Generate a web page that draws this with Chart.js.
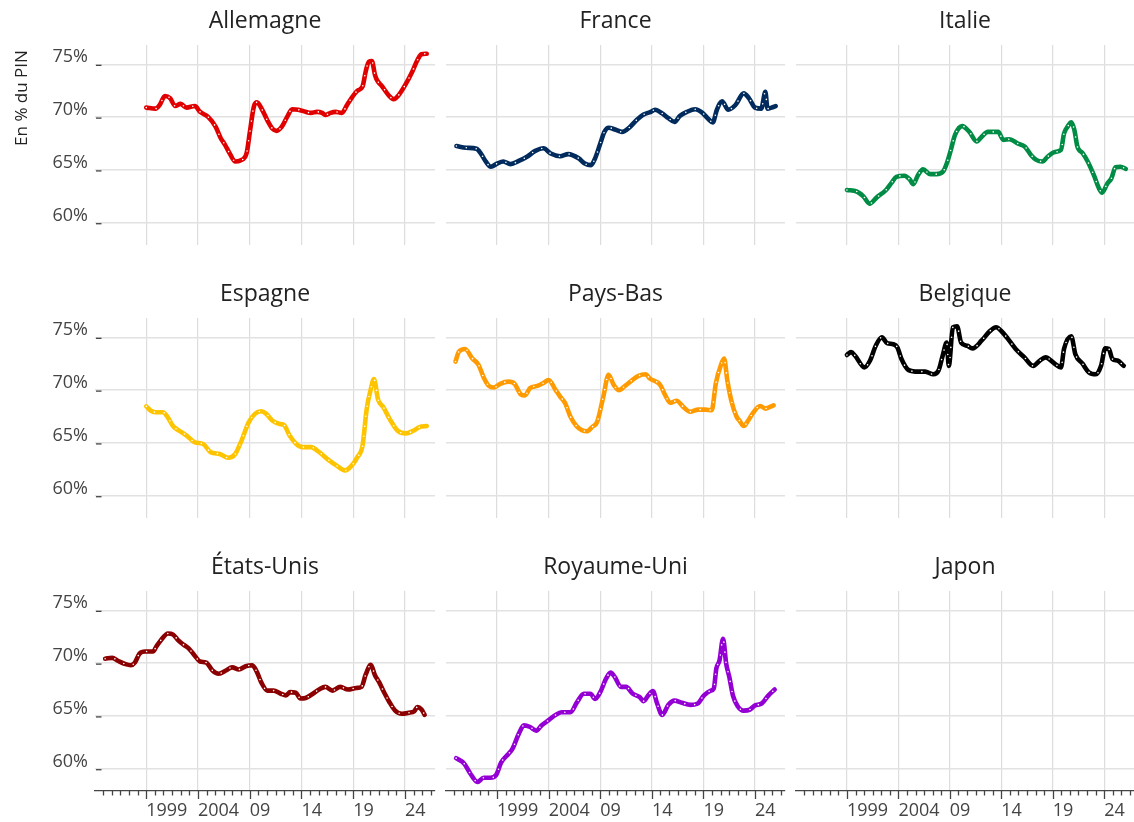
<!DOCTYPE html>
<html lang="fr">
<head>
<meta charset="utf-8">
<title>En % du PIN</title>
<script src="https://cdn.jsdelivr.net/npm/chart.js@4.4.1/dist/chart.umd.min.js"></script>
<style>
  html, body { margin: 0; padding: 0; background: #fff; }
  #wrap { position: relative; width: 1134px; height: 822px; overflow: hidden; background: #fff; }
  #wrap canvas { position: absolute; }
</style>
</head>
<body>
<div id="wrap"></div>
<script>
// ---------- data ----------
const countries = ['Allemagne', 'France', 'Italie', 'Espagne', 'Pays-Bas', 'Belgique', 'États-Unis', 'Royaume-Uni', 'Japon'];
const countryColors = ['#e00000', '#002b5c', '#008c45', '#ffc400', '#ff9b00', '#000000', '#8b0000', '#9400d3', '#bc002d'];

const allemagneYears = [1999.0, 1999.9, 2000.3, 2000.8, 2001.3, 2001.8, 2002.3, 2002.9, 2003.7, 2004.2, 2005.0, 2005.7, 2006.2, 2006.6, 2007.1, 2007.6, 2008.1, 2008.7, 2009.0, 2009.4, 2009.7, 2010.2, 2010.7, 2011.2, 2011.6, 2012.1, 2012.6, 2013.1, 2013.7, 2014.4, 2014.9, 2015.5, 2016.0, 2016.3, 2016.8, 2017.3, 2017.9, 2018.4, 2018.9, 2019.4, 2019.9, 2020.2, 2020.5, 2020.8, 2021.1, 2021.3, 2021.8, 2022.4, 2022.9, 2023.4, 2024.0, 2024.7, 2025.2, 2025.6, 2026.1];
const allemagneValues = [70.9, 70.8, 71.15, 72.0, 71.8, 71.05, 71.25, 70.9, 71.05, 70.5, 70.0, 69.1, 68.0, 67.4, 66.5, 65.8, 65.9, 66.6, 68.5, 71.0, 71.4, 70.7, 69.7, 68.9, 68.7, 69.1, 70.0, 70.75, 70.7, 70.5, 70.4, 70.5, 70.4, 70.2, 70.4, 70.5, 70.4, 71.15, 71.9, 72.5, 72.9, 74.3, 75.25, 75.3, 74.0, 73.5, 72.9, 72.1, 71.7, 72.1, 73.0, 74.3, 75.4, 75.95, 76.0];

const franceYears = [1995.06, 1996.0, 1997.0, 1997.4, 1997.9, 1998.4, 1999.0, 1999.6, 2000.3, 2001.1, 2001.9, 2002.7, 2003.5, 2004.2, 2005.1, 2005.9, 2006.9, 2007.5, 2008.1, 2008.5, 2009.0, 2009.4, 2009.8, 2010.5, 2011.1, 2011.8, 2012.5, 2013.2, 2013.9, 2014.3, 2015.0, 2015.6, 2016.2, 2016.7, 2017.4, 2018.2, 2018.9, 2019.5, 2019.9, 2020.3, 2020.8, 2021.4, 2022.1, 2022.9, 2023.4, 2024.0, 2024.6, 2025.0, 2025.2, 2025.6, 2026.0];
const franceValues = [67.26, 67.1, 67.0, 66.6, 65.8, 65.3, 65.6, 65.8, 65.55, 65.85, 66.25, 66.8, 67.05, 66.55, 66.3, 66.5, 66.1, 65.6, 65.45, 66.1, 67.5, 68.6, 69.0, 68.8, 68.6, 69.0, 69.7, 70.25, 70.5, 70.7, 70.35, 69.9, 69.55, 70.1, 70.5, 70.75, 70.4, 69.8, 69.5, 70.7, 71.5, 70.7, 71.15, 72.25, 71.8, 70.9, 70.8, 72.4, 70.8, 70.9, 71.05];

const italieYears = [1999.0, 1999.97, 2000.6, 2001.2, 2001.9, 2002.8, 2003.35, 2003.8, 2004.6, 2005.1, 2005.45, 2005.9, 2006.4, 2007.1, 2007.7, 2008.35, 2008.7, 2009.1, 2009.5, 2010.2, 2010.9, 2011.6, 2012.1, 2012.7, 2013.7, 2014.2, 2014.8, 2015.6, 2016.3, 2016.9, 2017.4, 2018.0, 2018.5, 2019.2, 2019.8, 2020.1, 2020.45, 2020.8, 2021.1, 2021.4, 2021.9, 2022.4, 2023.0, 2023.5, 2023.8, 2024.3, 2024.7, 2025.1, 2025.6, 2026.1];
const italieValues = [63.1, 62.95, 62.5, 61.8, 62.4, 63.1, 63.8, 64.35, 64.45, 64.1, 63.65, 64.5, 65.05, 64.6, 64.6, 64.85, 65.6, 66.9, 68.3, 69.15, 68.6, 67.7, 68.15, 68.6, 68.6, 67.85, 67.9, 67.5, 67.2, 66.4, 65.95, 65.8, 66.25, 66.7, 66.9, 68.45, 69.1, 69.5, 68.8, 67.2, 66.6, 65.8, 64.5, 63.25, 62.85, 63.7, 64.2, 65.25, 65.3, 65.1];

const espagneYears = [1999.0, 1999.45, 1999.97, 2000.6, 2001.1, 2001.6, 2002.2, 2002.9, 2003.7, 2004.5, 2005.25, 2006.1, 2006.9, 2007.6, 2008.2, 2008.9, 2009.5, 2010.1, 2010.6, 2011.2, 2011.9, 2012.3, 2012.85, 2013.5, 2014.1, 2014.9, 2015.75, 2016.6, 2017.4, 2018.2, 2018.85, 2019.4, 2019.9, 2020.3, 2020.7, 2021.0, 2021.4, 2021.9, 2022.5, 2023.3, 2024.1, 2024.8, 2025.4, 2026.1];
const espagneValues = [68.46, 68.05, 67.9, 67.9, 67.4, 66.57, 66.15, 65.7, 65.05, 64.9, 64.1, 63.95, 63.6, 63.95, 65.2, 66.95, 67.75, 68.0, 67.75, 67.1, 66.8, 66.7, 65.7, 64.9, 64.6, 64.6, 64.1, 63.4, 62.85, 62.4, 62.85, 63.65, 64.75, 68.2, 70.1, 71.05, 69.1, 68.4, 67.3, 66.15, 65.9, 66.15, 66.5, 66.6];

const paysBasYears = [1994.97, 1995.3, 1995.9, 1996.6, 1997.2, 1997.7, 1998.2, 1998.7, 1999.3, 2000.1, 2000.7, 2001.3, 2001.7, 2002.2, 2002.9, 2003.45, 2004.0, 2004.65, 2005.1, 2005.6, 2006.1, 2006.7, 2007.7, 2008.2, 2008.7, 2009.3, 2009.8, 2010.3, 2010.8, 2011.4, 2012.1, 2012.7, 2013.4, 2013.8, 2014.8, 2015.3, 2015.8, 2016.4, 2017.1, 2017.7, 2018.5, 2019.2, 2019.8, 2020.2, 2020.7, 2021.0, 2021.3, 2021.7, 2022.2, 2022.5, 2022.9, 2023.35, 2023.8, 2024.5, 2025.0, 2025.3, 2025.8];
const paysBasValues = [72.7, 73.65, 73.9, 73.0, 72.4, 71.2, 70.4, 70.25, 70.6, 70.8, 70.6, 69.6, 69.5, 70.2, 70.4, 70.65, 70.95, 70.05, 69.4, 68.75, 67.5, 66.6, 66.1, 66.5, 67.0, 69.4, 71.45, 70.5, 70.0, 70.4, 70.95, 71.35, 71.5, 71.1, 70.5, 69.5, 68.8, 69.0, 68.35, 67.95, 68.15, 68.15, 68.1, 70.65, 72.4, 73.0, 71.0, 69.0, 67.5, 67.1, 66.6, 67.15, 67.85, 68.5, 68.25, 68.35, 68.55];

const belgiqueYears = [1999.0, 1999.4, 1999.8, 2000.7, 2001.25, 2001.8, 2002.4, 2002.9, 2003.5, 2003.9, 2004.3, 2005.0, 2005.95, 2006.6, 2007.4, 2007.9, 2008.3, 2008.7, 2008.9, 2009.3, 2009.7, 2010.1, 2010.7, 2011.2, 2012.1, 2012.85, 2013.5, 2014.0, 2014.65, 2015.4, 2016.25, 2017.1, 2017.75, 2018.3, 2019.2, 2019.8, 2020.1, 2020.8, 2021.2, 2021.9, 2022.5, 2023.2, 2023.7, 2024.1, 2024.45, 2024.8, 2025.3, 2025.9];
const belgiqueValues = [73.33, 73.6, 73.25, 72.15, 72.8, 74.2, 75.0, 74.45, 74.35, 74.05, 72.95, 71.9, 71.75, 71.75, 71.5, 71.85, 73.25, 74.5, 72.3, 75.95, 76.05, 74.5, 74.2, 73.95, 74.7, 75.55, 75.95, 75.6, 74.85, 73.9, 73.1, 72.3, 72.8, 73.1, 72.5, 72.15, 73.9, 75.1, 73.4, 72.5, 71.7, 71.5, 72.3, 73.95, 73.9, 72.95, 72.8, 72.3];

const etatsUnisYears = [1995.03, 1995.7, 1996.3, 1997.0, 1997.5, 1997.9, 1998.35, 1998.9, 1999.65, 1999.99, 2000.4, 2001.1, 2001.6, 2002.1, 2002.6, 2003.1, 2003.65, 2004.2, 2004.8, 2005.4, 2006.0, 2006.7, 2007.3, 2007.95, 2008.6, 2009.25, 2009.7, 2010.1, 2010.7, 2011.3, 2012.0, 2012.5, 2012.9, 2013.45, 2013.9, 2014.4, 2015.1, 2015.7, 2016.3, 2017.0, 2017.75, 2018.5, 2019.3, 2019.8, 2020.2, 2020.7, 2021.1, 2021.5, 2022.0, 2022.5, 2023.05, 2023.7, 2024.35, 2024.9, 2025.2, 2025.6, 2025.9];
const etatsUnisValues = [70.42, 70.5, 70.2, 69.9, 69.8, 70.05, 70.9, 71.1, 71.1, 71.6, 72.15, 72.8, 72.7, 72.15, 71.75, 71.4, 70.75, 70.15, 70.05, 69.3, 69.0, 69.3, 69.6, 69.4, 69.7, 69.8, 69.15, 68.2, 67.4, 67.4, 67.1, 66.95, 67.25, 67.2, 66.65, 66.7, 67.1, 67.5, 67.75, 67.4, 67.75, 67.5, 67.65, 67.75, 68.9, 69.85, 68.85, 68.2, 67.2, 66.3, 65.5, 65.2, 65.3, 65.45, 65.85, 65.6, 65.1];

const royaumeUniYears = [1995.03, 1995.8, 1996.4, 1997.1, 1997.7, 1998.35, 1998.9, 1999.4, 2000.1, 2000.5, 2001.1, 2001.6, 2002.2, 2002.8, 2003.3, 2004.0, 2004.6, 2005.25, 2006.1, 2006.75, 2007.4, 2008.05, 2008.5, 2009.0, 2009.55, 2010.0, 2010.4, 2011.0, 2011.5, 2012.15, 2012.8, 2013.2, 2013.65, 2014.1, 2014.5, 2015.0, 2015.6, 2016.2, 2016.9, 2017.75, 2018.4, 2019.05, 2019.7, 2020.0, 2020.25, 2020.55, 2020.9, 2021.2, 2021.5, 2021.85, 2022.3, 2022.9, 2023.5, 2024.0, 2024.6, 2025.3, 2025.9];
const royaumeUniValues = [61.0, 60.5, 59.55, 58.75, 59.15, 59.15, 59.4, 60.6, 61.4, 61.9, 63.3, 64.1, 63.95, 63.6, 64.1, 64.6, 65.05, 65.35, 65.35, 66.3, 67.1, 67.1, 66.6, 67.25, 68.5, 69.1, 68.7, 67.75, 67.75, 67.1, 66.8, 66.4, 66.95, 67.35, 66.2, 65.1, 66.05, 66.45, 66.25, 66.05, 66.15, 66.95, 67.4, 67.6, 69.5, 70.25, 72.3, 69.95, 68.7, 66.95, 65.95, 65.5, 65.6, 66.0, 66.15, 66.95, 67.5];

const japonYears = [];
const japonValues = [];

const seriesYears = [allemagneYears, franceYears, italieYears, espagneYears, paysBasYears, belgiqueYears, etatsUnisYears, royaumeUniYears, japonYears];
const seriesValues = [allemagneValues, franceValues, italieValues, espagneValues, paysBasValues, belgiqueValues, etatsUnisValues, royaumeUniValues, japonValues];

const xTickValues = [1999, 2004, 2009, 2014, 2019, 2024];
const xTickLabels = ['1999', '2004', '09', '14', '19', '24'];
const yTickValues = [60, 65, 70, 75];
const yTickLabels = ['60%', '65%', '70%', '75%'];
const yAxisTitle = 'En % du PIN';

// ---------- layout ----------
const X_MIN = 1994.05, X_MAX = 2026.9;
const Y_MIN = 57.89, Y_MAX = 76.83;
const colCanvas = [[0, 440], [440, 790], [790, 1134]];
const rowCanvas = [[0, 270], [270, 543], [543, 822]];
const plotLeft = [95, 446, 796];
const plotRight = [435, 785, 1134];
const plotTop = [45, 318, 591];
const PLOT_H = 200;

// minor ticks every 10 months around the 5-year majors
const xMinorTicks = [];
for (let v = 1999 - 25 / 6; v < X_MAX; v += 5 / 6) {
  if (v > X_MIN && !xTickValues.some(m => Math.abs(m - v) < 0.01)) xMinorTicks.push(v);
}

const panelDecor = {
  id: 'panelDecor',
  afterDraw(chart, args, opts) {
    const { ctx, chartArea: area, scales } = chart;
    ctx.save();
    ctx.fillStyle = '#222';
    ctx.font = '23px "Open Sans"';
    ctx.textAlign = 'center';
    ctx.textBaseline = 'alphabetic';
    ctx.fillText(opts.title, (area.left + area.right) / 2, area.top - 16.7);

    ctx.strokeStyle = '#444';
    ctx.lineWidth = 1.3;
    if (opts.yMarks) {
      yTickValues.forEach(v => {
        const py = scales.y.getPixelForValue(v) + 1;
        ctx.beginPath();
        ctx.moveTo(area.left + 1, py);
        ctx.lineTo(area.left + 6.5, py);
        ctx.stroke();
      });
    }
    if (opts.xMarks) {
      const base = area.bottom;
      xMinorTicks.forEach(v => {
        const px = Math.round(scales.x.getPixelForValue(v)) + 0.5;
        ctx.beginPath();
        ctx.moveTo(px, base);
        ctx.lineTo(px, base + 4.5);
        ctx.stroke();
      });
      xTickValues.forEach(v => {
        const px = Math.round(scales.x.getPixelForValue(v)) + 0.5;
        ctx.beginPath();
        ctx.moveTo(px, base);
        ctx.lineTo(px, base + 8);
        ctx.stroke();
      });
    }
    if (opts.yTitle) {
      ctx.translate(26.7, 98);
      ctx.rotate(-Math.PI / 2);
      ctx.font = '17px "Open Sans"';
      ctx.fillStyle = '#222';
      ctx.fillText(opts.yTitle, 0, 0);
    }
    ctx.restore();
  }
};

function makePanel(index) {
  const row = Math.floor(index / 3), col = index % 3;
  const [cL, cR] = colCanvas[col];
  const [cT, cB] = rowCanvas[row];
  const yAxisW = col === 0 ? 95 : 0;
  const xAxisH = row === 2 ? cB - (plotTop[row] + PLOT_H) : 0;

  const canvas = document.createElement('canvas');
  canvas.width = cR - cL;
  canvas.height = cB - cT;
  canvas.style.left = cL + 'px';
  canvas.style.top = cT + 'px';
  canvas.style.width = (cR - cL) + 'px';
  canvas.style.height = (cB - cT) + 'px';
  document.getElementById('wrap').appendChild(canvas);

  const pts = seriesYears[index].map((yr, i) => ({ x: yr, y: seriesValues[index][i] }));
  const color = countryColors[index];

  new Chart(canvas, {
    type: 'line',
    data: {
      datasets: [
        {
          // white dotted inner stroke
          data: pts,
          borderColor: '#ffffff',
          borderWidth: 1.6,
          borderDash: [0, 10],
          borderCapStyle: 'round',
          pointRadius: 0,
          cubicInterpolationMode: 'monotone',
          fill: false
        },
        {
          data: pts,
          borderColor: color,
          borderWidth: 4.6,
          borderCapStyle: 'round',
          borderJoinStyle: 'round',
          pointRadius: 0,
          cubicInterpolationMode: 'monotone',
          fill: false
        }
      ]
    },
    options: {
      responsive: false,
      animation: false,
      devicePixelRatio: 1,
      layout: {
        autoPadding: false,
        padding: {
          left: plotLeft[col] - cL - yAxisW,
          right: cR - plotRight[col],
          top: plotTop[row] - cT,
          bottom: cB - (plotTop[row] + PLOT_H) - xAxisH
        }
      },
      plugins: {
        legend: { display: false },
        tooltip: { enabled: false },
        panelDecor: {
          title: countries[index],
          yMarks: col === 0,
          xMarks: row === 2,
          yTitle: index === 0 ? yAxisTitle : null
        }
      },
      scales: {
        x: {
          type: 'linear',
          min: X_MIN,
          max: X_MAX,
          afterBuildTicks: s => { s.ticks = xTickValues.map(v => ({ value: v })); },
          afterFit: s => { s.height = xAxisH; },
          grid: { color: '#dddddd', lineWidth: 1.2, drawTicks: false },
          border: { display: row === 2, color: '#444', width: 1.3 },
          ticks: {
            display: row === 2,
            align: 'start',
            padding: 9,
            color: '#444',
            font: { family: '"Open Sans"', size: 18 },
            maxRotation: 0,
            autoSkip: false,
            callback: v => xTickLabels[xTickValues.indexOf(v)]
          }
        },
        y: {
          min: Y_MIN,
          max: Y_MAX,
          afterBuildTicks: s => { s.ticks = yTickValues.map(v => ({ value: v })); },
          afterFit: s => { s.width = yAxisW; },
          grid: { color: '#e2e2e2', lineWidth: 1.4, drawTicks: false },
          border: { display: false },
          ticks: {
            display: col === 0,
            padding: 7,
            labelOffset: -7,
            color: '#444',
            font: { family: '"Open Sans"', size: 18 },
            callback: v => yTickLabels[yTickValues.indexOf(v)]
          }
        }
      }
    },
    plugins: [panelDecor]
  });
}

countries.forEach((c, i) => makePanel(i));
</script>
</body>
</html>
